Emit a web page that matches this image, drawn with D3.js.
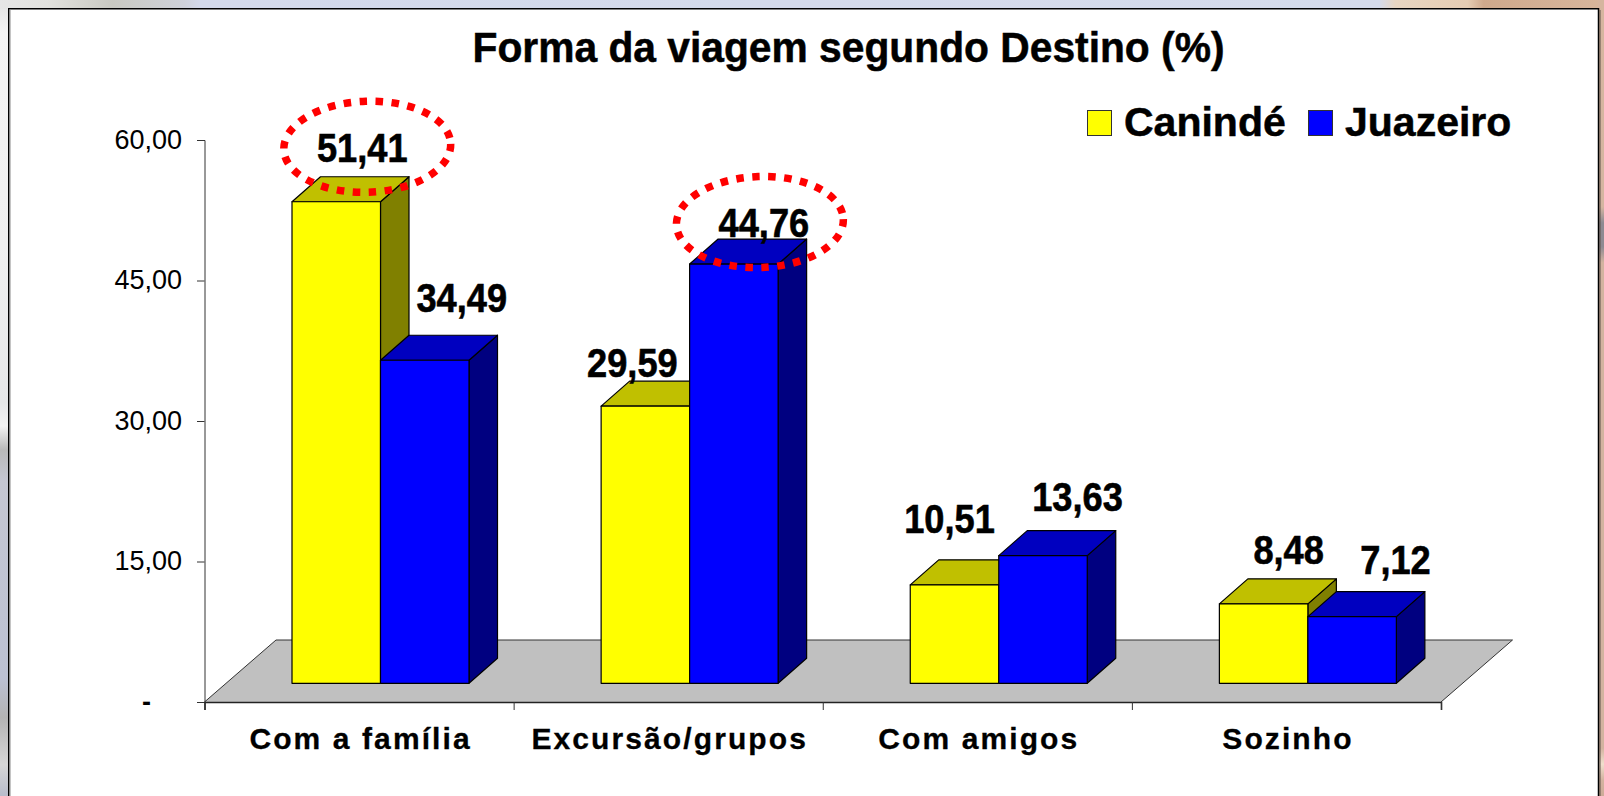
<!DOCTYPE html>
<html><head><meta charset="utf-8">
<script src="https://cdn.jsdelivr.net/npm/d3@7"></script>
<style>
html,body{margin:0;padding:0;background:#fff;overflow:hidden}
svg{display:block}
text{font-family:"Liberation Sans",Arial,sans-serif;fill:#000}
</style></head><body>
<svg id="c" width="1604" height="796"></svg>
<script>
const title = "Forma da viagem segundo Destino (%)";
const categories = ["Com a família","Excursão/grupos","Com amigos","Sozinho"];
const seriesNames = ["Canindé","Juazeiro"];
const caninde = [51.41,29.59,10.51,8.48];
const juazeiro = [34.49,44.76,13.63,7.12];
const yTicks = [0,15,30,45,60];
const highlighted = [["Com a família","Canindé"],["Excursão/grupos","Juazeiro"]];

// layout and style, kept apart from the data
const W=1604,H=796;
const colors={"Canindé":{front:"#ffff00",top:"#c0c000",side:"#808000"},
              "Juazeiro":{front:"#0000ff",top:"#0000c0",side:"#000080"}};
const floor={dx:21,dy:-18.7};          // plane the bars stand on, from the axis corner
const floorDepth={dx:71.5,dy:-62};     // full depth of the grey floor
const depth={dx:28.5,dy:-25};          // depth of each bar
// hand placement of the value labels, [dx,dy] from the top centre of the bar front
const labelNudge={"Canindé":[[26,-40],[-13,-29],[-5,-52],[25,-39.6]],
                  "Juazeiro":[[37,-48.5],[30,-26.7],[34.5,-45],[43.4,-42.3]]};
// hand placement of the ellipses, from the same anchor
const ringLayout=[{dx:31,dy:-55,rx:83.5,ry:45.5},{dx:26,dy:-42,rx:83.5,ry:45.5}];

const svg=d3.select("#c");
const defs=svg.append("defs");
function grad(id,x2,y2,stops){
  const g=defs.append("linearGradient").attr("id",id).attr("x1",0).attr("y1",0).attr("x2",x2).attr("y2",y2);
  stops.forEach(s=>g.append("stop").attr("offset",s[0]).attr("stop-color",s[1]));
}
grad("bgTop",1,0,[[0,"#e6e6e6"],[.03,"#e2e2de"],[.07,"#c9c9c2"],[.115,"#cfd2da"],[.125,"#d3d9ea"],[.86,"#d5dbea"],[.87,"#e8d6c2"],[.915,"#e6cdb3"],[.925,"#cfa98c"],[1,"#d8b69c"]]);
grad("bgLeft",0,1,[[0,"#e8e8e8"],[.03,"#f4f4f4"],[.3,"#f0f0f0"],[.5,"#e6e7e8"],[.53,"#f2f2f2"],[.56,"#b9b9b9"],[.6,"#c5c7d2"],[.85,"#bcc1d3"],[.9,"#b4b4b4"],[.96,"#d6d6d6"],[1,"#b8bccb"]]);
grad("bgRight",0,1,[[0,"#d6b59f"],[.26,"#d5b5a1"],[.28,"#8e8a92"],[.31,"#8e8a92"],[.33,"#d3b3a0"],[.94,"#d3b3a0"],[.96,"#f1dfcd"],[.98,"#d3b3a0"],[1,"#cdab97"]]);

// backdrop and panel
svg.append("rect").attr("width",W).attr("height",9).attr("fill","url(#bgTop)");
svg.append("rect").attr("y",9).attr("width",9).attr("height",H-9).attr("fill","url(#bgLeft)");
svg.append("rect").attr("x",1598).attr("width",6).attr("height",H).attr("fill","url(#bgRight)");
svg.append("rect").attr("x",8).attr("y",8).attr("width",1591).attr("height",H-8).attr("fill","#fff");
svg.append("path").attr("d",`M8.75,${H}V8.75H1598.5V${H}`).attr("fill","none").attr("stroke","#000").attr("stroke-width",1.5);
svg.append("line").attr("x1",10).attr("x2",10).attr("y1",9).attr("y2",H).attr("stroke","#8a8a8a").attr("stroke-width",1);
svg.append("line").attr("x1",1600).attr("x2",1600).attr("y1",10).attr("y2",H).attr("stroke","#5d5048").attr("stroke-width",1);

// scales
const x0=d3.scaleBand().domain(categories).range([204.5,1441]);
const x1=d3.scaleBand().domain(seriesNames).range([87.5,264.5]);
const y=d3.scaleLinear().domain([0,60]).range([702,140]);
const edge=d3.scaleLinear().domain([0,categories.length]).range(x0.range());

// grey floor
const [fl,fr]=x0.range(), fy=y(0);
svg.append("polygon")
  .attr("points",[[fl,fy],[fl+floorDepth.dx,fy+floorDepth.dy],[fr+floorDepth.dx,fy+floorDepth.dy],[fr,fy]].join(" "))
  .attr("fill","#c0c0c0");
svg.append("path")
  .attr("d",`M${fl},${fy}L${fl+floorDepth.dx},${fy+floorDepth.dy}H${fr+floorDepth.dx}L${fr},${fy}`)
  .attr("fill","none").attr("stroke","#333").attr("stroke-width",1);

// axes
const yAxis=svg.append("g").attr("transform",`translate(${fl},0)`)
  .call(d3.axisLeft(y).tickValues(yTicks).tickSize(7.5).tickPadding(15)
    .tickFormat(d=>d===0?"-":d3.format(".2f")(d).replace(".",",")));
yAxis.selectAll("text").attr("font-size",27).attr("font-family",'"Liberation Sans"').attr("dy","0.3em").style("fill","#000");
yAxis.selectAll(".tick").filter(d=>d===0).select("text").attr("x",-53.5).attr("font-weight","bold");
yAxis.selectAll("line").attr("stroke","#333");
yAxis.select(".domain").attr("stroke","#333");

const xEdges=svg.append("g").attr("transform",`translate(0,${fy})`)
  .call(d3.axisBottom(edge).ticks(categories.length).tickSize(8).tickFormat("").tickSizeOuter(8));
xEdges.select(".domain").attr("stroke","#222").attr("stroke-width",1.6);
xEdges.selectAll("line").attr("stroke","#333");

const xLabels=svg.append("g").attr("transform",`translate(1.5,${fy})`)
  .call(d3.axisBottom(x0).tickSize(0).tickPadding(26));
xLabels.select(".domain").remove();
xLabels.selectAll("text").attr("font-size",30).attr("font-weight","bold")
  .attr("font-family",'"Liberation Sans"').attr("letter-spacing",2.1)
  .style("fill","#000").style("stroke","#000").style("stroke-width",.3);

// bars
const rows=[];
categories.forEach((c,i)=>{
  seriesNames.forEach((s,j)=>{
    rows.push({cat:c,i,series:s,value:(j===0?caninde:juazeiro)[i]});
  });
});
const bw=x1.bandwidth();
function box(d){
  const l=x0(d.cat)+x1(d.series), r=l+bw, b=y(0)+floor.dy, t=y(d.value)+floor.dy;
  return {l,r,b,t};
}
const bars=svg.append("g").selectAll("g").data(rows).join("g")
  .attr("stroke","#000").attr("stroke-width",1.2).attr("stroke-linejoin","round");
bars.append("polygon").attr("fill",d=>colors[d.series].side).attr("points",d=>{
  const q=box(d);return [[q.r,q.t],[q.r+depth.dx,q.t+depth.dy],[q.r+depth.dx,q.b+depth.dy],[q.r,q.b]].join(" ");});
bars.append("polygon").attr("fill",d=>colors[d.series].top).attr("points",d=>{
  const q=box(d);return [[q.l,q.t],[q.l+depth.dx,q.t+depth.dy],[q.r+depth.dx,q.t+depth.dy],[q.r,q.t]].join(" ");});
bars.append("rect").attr("fill",d=>colors[d.series].front)
  .attr("x",d=>box(d).l).attr("y",d=>box(d).t).attr("width",bw).attr("height",d=>box(d).b-box(d).t);

// value labels
svg.append("g").selectAll("text").data(rows).join("text")
  .attr("text-anchor","middle").attr("font-weight","bold").attr("font-size",40)
  .attr("stroke","#000").attr("stroke-width",.6)
  .attr("transform",d=>{
    const q=box(d), n=labelNudge[d.series][d.i];
    return `translate(${(q.l+q.r)/2+n[0]},${q.t+n[1]}) scale(0.905,1)`;
  })
  .text(d=>d3.format(".2f")(d.value).replace(".",","));

// red dotted rings round the two highest values
svg.append("g").selectAll("ellipse").data(highlighted).join("ellipse")
  .each(function(h,k){
    const d=rows.find(r=>r.cat===h[0]&&r.series===h[1]), q=box(d), a=ringLayout[k];
    const cx=(q.l+q.r)/2+a.dx, cy=q.t+a.dy;
    d3.select(this).attr("cx",cx).attr("cy",cy).attr("rx",a.rx).attr("ry",a.ry)
      .attr("transform",`rotate(-2 ${cx} ${cy})`);
  })
  .attr("fill","none").attr("stroke","#ff0000").attr("stroke-width",7.5).attr("stroke-dasharray","7.5 8.5");

// title
svg.append("text").attr("x",848.5).attr("y",62).attr("text-anchor","middle")
  .attr("font-size",42).attr("font-weight","bold").attr("stroke","#000").attr("stroke-width",.5)
  .attr("textLength",752).attr("lengthAdjust","spacingAndGlyphs").text(title);

// legend
const legendX=d3.scaleOrdinal().domain(seriesNames).range([1087,1308]);
const lg=svg.append("g").selectAll("g").data(seriesNames).join("g")
  .attr("transform",d=>`translate(${legendX(d)},110)`);
lg.append("rect").attr("x",.5).attr("y",.5).attr("width",24).attr("height",25)
  .attr("fill",d=>colors[d].front).attr("stroke","#333").attr("stroke-width",1);
lg.append("text").attr("x",37).attr("y",26).attr("font-size",41).attr("font-weight","bold")
  .attr("stroke","#000").attr("stroke-width",.5).text(d=>d);
</script>
</body></html>
